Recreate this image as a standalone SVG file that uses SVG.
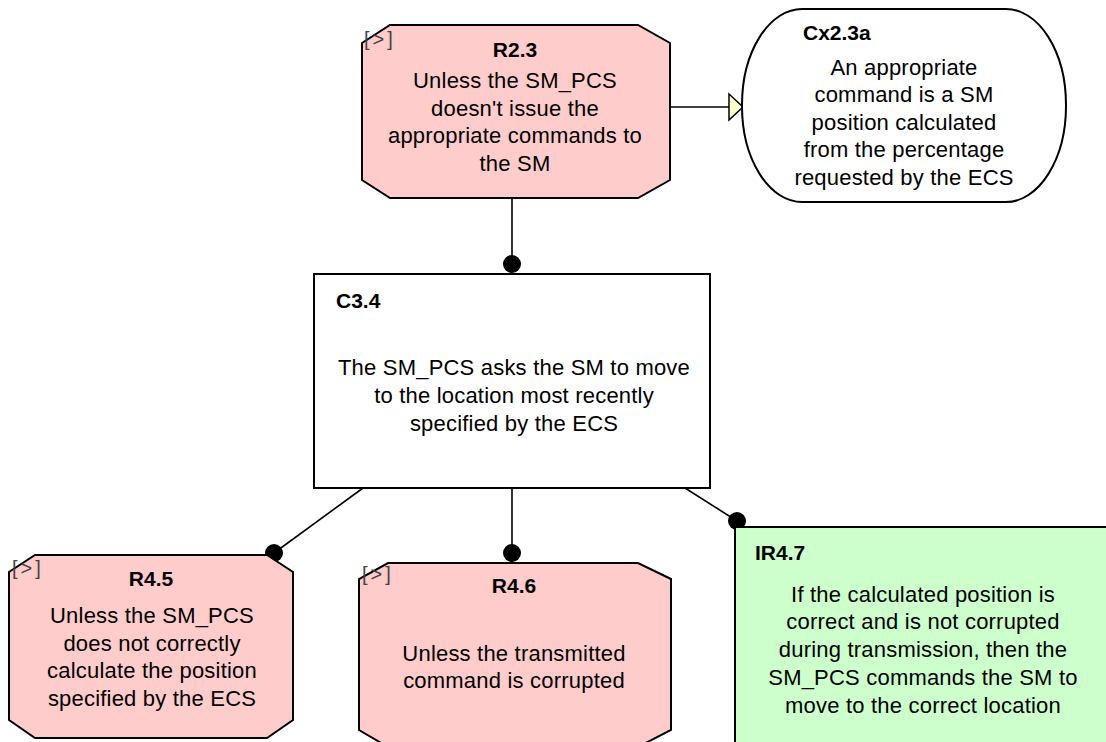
<svg xmlns="http://www.w3.org/2000/svg" width="1106" height="742" viewBox="0 0 1106 742">
  <style>
    .title { font-family: "Liberation Sans", Arial, sans-serif; font-size: 21px; font-weight: bold; fill: #000; }
    .body { font-family: "Liberation Sans", Arial, sans-serif; font-size: 22px; fill: #000; text-anchor: middle; letter-spacing: 0.2px; }
    .tag { font-family: "Liberation Sans", Arial, sans-serif; font-size: 20px; fill: #444; letter-spacing: 3px; }
    .risk { fill: #FFCCCC; stroke: #000; stroke-width: 2; }
    .claim { fill: #FFFFFF; stroke: #000; stroke-width: 2; }
    .ctx { fill: #FFFFFF; stroke: #000; stroke-width: 2; }
    .good { fill: #CCFFCC; stroke: #000; stroke-width: 2; }
    .link { stroke: #000; stroke-width: 1.6; fill: none; }
    .dot { fill: #000; }
    .ctxhead { fill: #FFFFCC; stroke: #000; stroke-width: 1.5; }
  </style>
  <rect width="1106" height="742" fill="#FFFFFF"/>

  <!-- connectors -->
  <g id="connectors">
    <line class="link" x1="670" y1="107" x2="730" y2="107"/>
    <polygon class="ctxhead" points="729,94 743,107 729,120"/>
    <line class="link" x1="512" y1="198" x2="512" y2="264"/>
    <circle class="dot" cx="512" cy="264" r="9"/>
    <line class="link" x1="363" y1="488" x2="274" y2="553"/>
    <circle class="dot" cx="274" cy="553" r="9"/>
    <line class="link" x1="512" y1="488" x2="512" y2="553"/>
    <circle class="dot" cx="512" cy="553" r="9"/>
    <line class="link" x1="685" y1="488" x2="737" y2="521"/>
    <circle class="dot" cx="737" cy="521" r="9"/>
  </g>

  <!-- R2.3 -->
  <g id="R2.3">
    <polygon class="risk" points="390,25 638,25 670,43 670,180 638,198 390,198 362,180 362,43"/>
    <text class="tag" x="364" y="46">[&gt;]</text>
    <text class="title" x="515" y="57" text-anchor="middle">R2.3</text>
    <text class="body" x="515" y="88">Unless the SM_PCS</text>
    <text class="body" x="515" y="116">doesn't issue the</text>
    <text class="body" x="515" y="143">appropriate commands to</text>
    <text class="body" x="515" y="171">the SM</text>
  </g>

  <!-- Cx2.3a -->
  <g id="Cx2.3a">
    <rect class="ctx" x="742" y="9" width="324" height="193" rx="60" ry="96"/>
    <text class="title" x="803" y="40">Cx2.3a</text>
    <text class="body" x="904" y="75">An appropriate</text>
    <text class="body" x="904" y="102">command is a SM</text>
    <text class="body" x="904" y="130">position calculated</text>
    <text class="body" x="904" y="157">from the percentage</text>
    <text class="body" x="904" y="185">requested by the ECS</text>
  </g>

  <!-- C3.4 -->
  <g id="C3.4">
    <rect class="claim" x="314" y="274" width="396" height="214"/>
    <text class="title" x="336" y="308">C3.4</text>
    <text class="body" x="514" y="375">The SM_PCS asks the SM to move</text>
    <text class="body" x="514" y="403">to the location most recently</text>
    <text class="body" x="514" y="431">specified by the ECS</text>
  </g>

  <!-- R4.5 -->
  <g id="R4.5">
    <polygon class="risk" points="35,555 267,555 293,572 293,720 267,738 35,738 9,720 9,572"/>
    <text class="tag" x="12" y="575">[&gt;]</text>
    <text class="title" x="151" y="586" text-anchor="middle">R4.5</text>
    <text class="body" x="152" y="623">Unless the SM_PCS</text>
    <text class="body" x="152" y="651">does not correctly</text>
    <text class="body" x="152" y="678">calculate the position</text>
    <text class="body" x="152" y="706">specified by the ECS</text>
  </g>

  <!-- R4.6 -->
  <g id="R4.6">
    <polygon class="risk" points="388,563 638,563 671,579 671,730 638,747 388,747 359,730 359,579"/>
    <text class="tag" x="362" y="581">[&gt;]</text>
    <text class="title" x="514" y="593" text-anchor="middle">R4.6</text>
    <text class="body" x="514" y="661">Unless the transmitted</text>
    <text class="body" x="514" y="688">command is corrupted</text>
  </g>

  <!-- IR4.7 -->
  <g id="IR4.7">
    <rect class="good" x="735" y="527" width="380" height="230"/>
    <text class="title" x="755" y="560">IR4.7</text>
    <text class="body" x="923" y="602">If the calculated position is</text>
    <text class="body" x="923" y="629">correct and is not corrupted</text>
    <text class="body" x="923" y="657">during transmission, then the</text>
    <text class="body" x="923" y="685">SM_PCS commands the SM to</text>
    <text class="body" x="923" y="713">move to the correct location</text>
  </g>
</svg>
